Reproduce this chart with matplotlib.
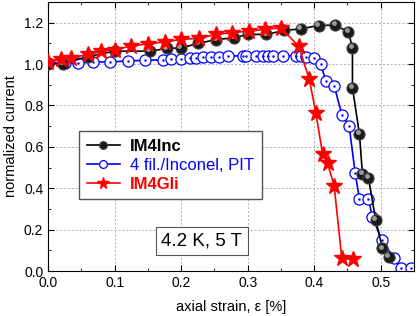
import matplotlib
matplotlib.use('Agg')
import matplotlib.pyplot as plt
import matplotlib.transforms as mtransforms
from matplotlib.ticker import MultipleLocator

plt.rcParams['font.family'] = ['Liberation Sans', 'DejaVu Sans']

# --- data -----------------------------------------
inc_x = [0.0, 0.0225, 0.06, 0.10, 0.153, 0.178, 0.20, 0.226, 0.253, 0.28, 0.30,
         0.328, 0.355, 0.38, 0.407, 0.432, 0.4515, 0.4575, 0.4575, 0.468,
         0.4725, 0.4815, 0.4925, 0.5025, 0.5125]
inc_y = [1.0, 1.002, 1.036, 1.062, 1.062, 1.075, 1.078, 1.10, 1.118, 1.127, 1.143,
         1.143, 1.162, 1.17, 1.186, 1.188, 1.154, 1.078, 0.885, 0.662,
         0.470, 0.452, 0.247, 0.110, 0.069]

pit_x = [0.0, 0.025, 0.045, 0.0675, 0.0925, 0.12, 0.145, 0.1725, 0.185, 0.20,
         0.2125, 0.2225, 0.2325, 0.245, 0.2575, 0.27, 0.2925, 0.2975, 0.3125,
         0.3225, 0.33, 0.3375, 0.3525, 0.3725, 0.38, 0.3875, 0.40, 0.41,
         0.4175, 0.43, 0.4415, 0.4525, 0.4615, 0.468, 0.4815, 0.4875, 0.5015,
         0.52, 0.53, 0.545]
pit_y = [1.006, 1.004, 1.004, 1.01, 1.01, 1.015, 1.018, 1.02, 1.024, 1.026,
         1.028, 1.03, 1.032, 1.036, 1.036, 1.038, 1.04, 1.04, 1.04,
         1.04, 1.04, 1.04, 1.04, 1.04, 1.04, 1.036, 1.03, 0.998,
         0.917, 0.896, 0.755, 0.702, 0.476, 0.35, 0.35, 0.26, 0.152,
         0.061, 0.016, 0.013]

gli_x = [0.0, 0.02, 0.035, 0.06, 0.08, 0.10, 0.125, 0.15, 0.175, 0.20, 0.2265,
         0.2525, 0.2765, 0.3015, 0.3265, 0.35, 0.3765, 0.3925, 0.4025, 0.4125,
         0.42, 0.43, 0.4415, 0.4585]
gli_y = [1.009, 1.022, 1.03, 1.046, 1.062, 1.07, 1.086, 1.098, 1.106, 1.119, 1.124,
         1.143, 1.151, 1.159, 1.167, 1.175, 1.086, 0.928, 0.764, 0.567,
         0.521, 0.412, 0.061, 0.057]
# --------------------------------------------------

fig = plt.figure(figsize=(4.19, 3.16), dpi=100)
ax = fig.add_axes([0.115, 0.142, 0.873, 0.852])

ax.plot(inc_x, inc_y, color='black', lw=1.2, marker='o', ms=8,
        mfc='#1a1a1a', mec='#444444', mew=0.8, label='IM4Inc', zorder=3)
# small highlight to mimic the shaded balls
hl = mtransforms.offset_copy(ax.transData, fig=fig, x=-1.3, y=1.3, units='points')
ax.plot(inc_x, inc_y, ls='none', marker='o', ms=2.5, color='#9a9a9a',
        transform=hl, zorder=3)
ax.plot(pit_x, pit_y, color='blue', lw=1.2, marker='o', ms=8,
        mfc='white', mec='blue', mew=0.9, label='4 fil./Inconel, PIT', zorder=2)
ax.plot(pit_x, pit_y, ls='none', marker='.', ms=1.5, color='blue', zorder=2)
ax.plot(gli_x, gli_y, color='red', lw=1.2, marker='*', ms=12,
        mfc='red', mec='red', label='IM4Gli', zorder=4)

ax.set_xlim(0, 0.55)
ax.set_ylim(0, 1.3)
ax.xaxis.set_major_locator(MultipleLocator(0.1))
ax.xaxis.set_minor_locator(MultipleLocator(0.05))
ax.yaxis.set_major_locator(MultipleLocator(0.2))
ax.yaxis.set_minor_locator(MultipleLocator(0.1))
ax.tick_params(which='both', direction='in', top=True, right=True, labelsize=10)
ax.tick_params(which='major', length=4)
ax.tick_params(which='minor', length=2.5)
ax.grid(True, which='major', ls=(0, (2, 2)), color='#b0b0b0', lw=0.7)

ax.set_xlabel('axial strain, ε [%]', fontsize=10.5, labelpad=7)
ax.set_ylabel('normalized current', fontsize=10.5)

handles, labels = ax.get_legend_handles_labels()
leg = ax.legend(handles, labels, loc='upper left', bbox_to_anchor=(0.085, 0.52),
                fontsize=12, markerscale=0.7, handlelength=2.0, handletextpad=0.6,
                framealpha=1, fancybox=False, edgecolor='#555555',
                borderpad=0.45, labelspacing=0.25, borderaxespad=0)
for txt, c, w in zip(leg.get_texts(), ['black', 'blue', 'red'],
                     ['bold', 'normal', 'bold']):
    txt.set_color(c)
    txt.set_fontweight(w)

ax.text(0.42, 0.112, '4.2 K, 5 T', transform=ax.transAxes, fontsize=13.5,
        ha='center', va='center',
        bbox=dict(boxstyle='square,pad=0.3', fc='white', ec='#555555', lw=0.8))

fig.savefig('out.png', dpi=100)
